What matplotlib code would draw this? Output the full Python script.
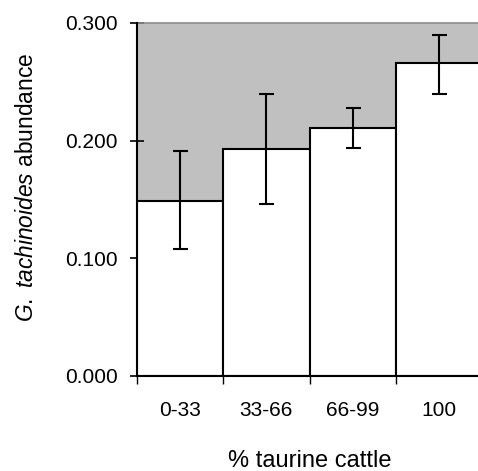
import matplotlib
matplotlib.use('Agg')
import matplotlib.pyplot as plt
import numpy as np

plt.rcParams['font.family'] = ['Liberation Sans', 'DejaVu Sans']
plt.rcParams['mathtext.fontset'] = 'custom'
plt.rcParams['mathtext.rm'] = 'Liberation Sans'
plt.rcParams['mathtext.it'] = 'Liberation Sans:italic'

# data
groups = ['0-33', '33-66', '66-99', '100']
abundance = [0.149, 0.193, 0.211, 0.266]
err_low = [0.108, 0.146, 0.194, 0.240]
err_high = [0.191, 0.240, 0.228, 0.290]

fig = plt.figure(figsize=(4.78, 4.71), dpi=100)
ax = fig.add_axes([0.2866, 0.2017, 0.722, 0.7495])
ax.set_facecolor('#c0c0c0')

x = np.arange(len(groups))
vals = np.array(abundance)
yerr = [vals - np.array(err_low), np.array(err_high) - vals]
ax.bar(x, vals, width=1.0, color='white', edgecolor='black', linewidth=1.5, zorder=2)
ax.errorbar(x, vals, yerr=yerr, fmt='none', ecolor='black', elinewidth=1.5,
            capsize=5.4, capthick=1.5, zorder=3)

ax.set_xlim(-0.5, 3.5)
ax.set_ylim(0, 0.3)

# y axis
ax.set_yticks([0.0, 0.1, 0.2, 0.3])
ax.set_yticklabels(['0.000', '0.100', '0.200', '0.300'])
ax.tick_params(axis='y', direction='inout', length=10, width=1.2, pad=9, labelsize=15)

# x axis: tick marks at bar edges, labels at centres
ax.set_xticks(np.arange(-0.5, 3.0, 1.0))
ax.set_xticklabels([])
ax.tick_params(axis='x', which='major', direction='out', length=6, width=1)
ax.set_xticks(x, minor=True)
ax.set_xticklabels(groups, minor=True)
ax.tick_params(axis='x', which='minor', length=0, pad=18, labelsize=15)

for s in ['left', 'bottom']:
    ax.spines[s].set_linewidth(1.5)
    ax.spines[s].set_zorder(4)
ax.spines['top'].set_color('#8c8c8c')
ax.spines['top'].set_linewidth(1.2)
ax.spines['right'].set_visible(False)

ax.set_xlabel('% taurine cattle', fontsize=17, labelpad=21.5)
ax.set_ylabel(r'$\it{G.\ tachinoides}$ abundance', fontsize=16.4)
ax.yaxis.set_label_coords(-0.286, 0.533)

fig.savefig('out.png', dpi=100)
